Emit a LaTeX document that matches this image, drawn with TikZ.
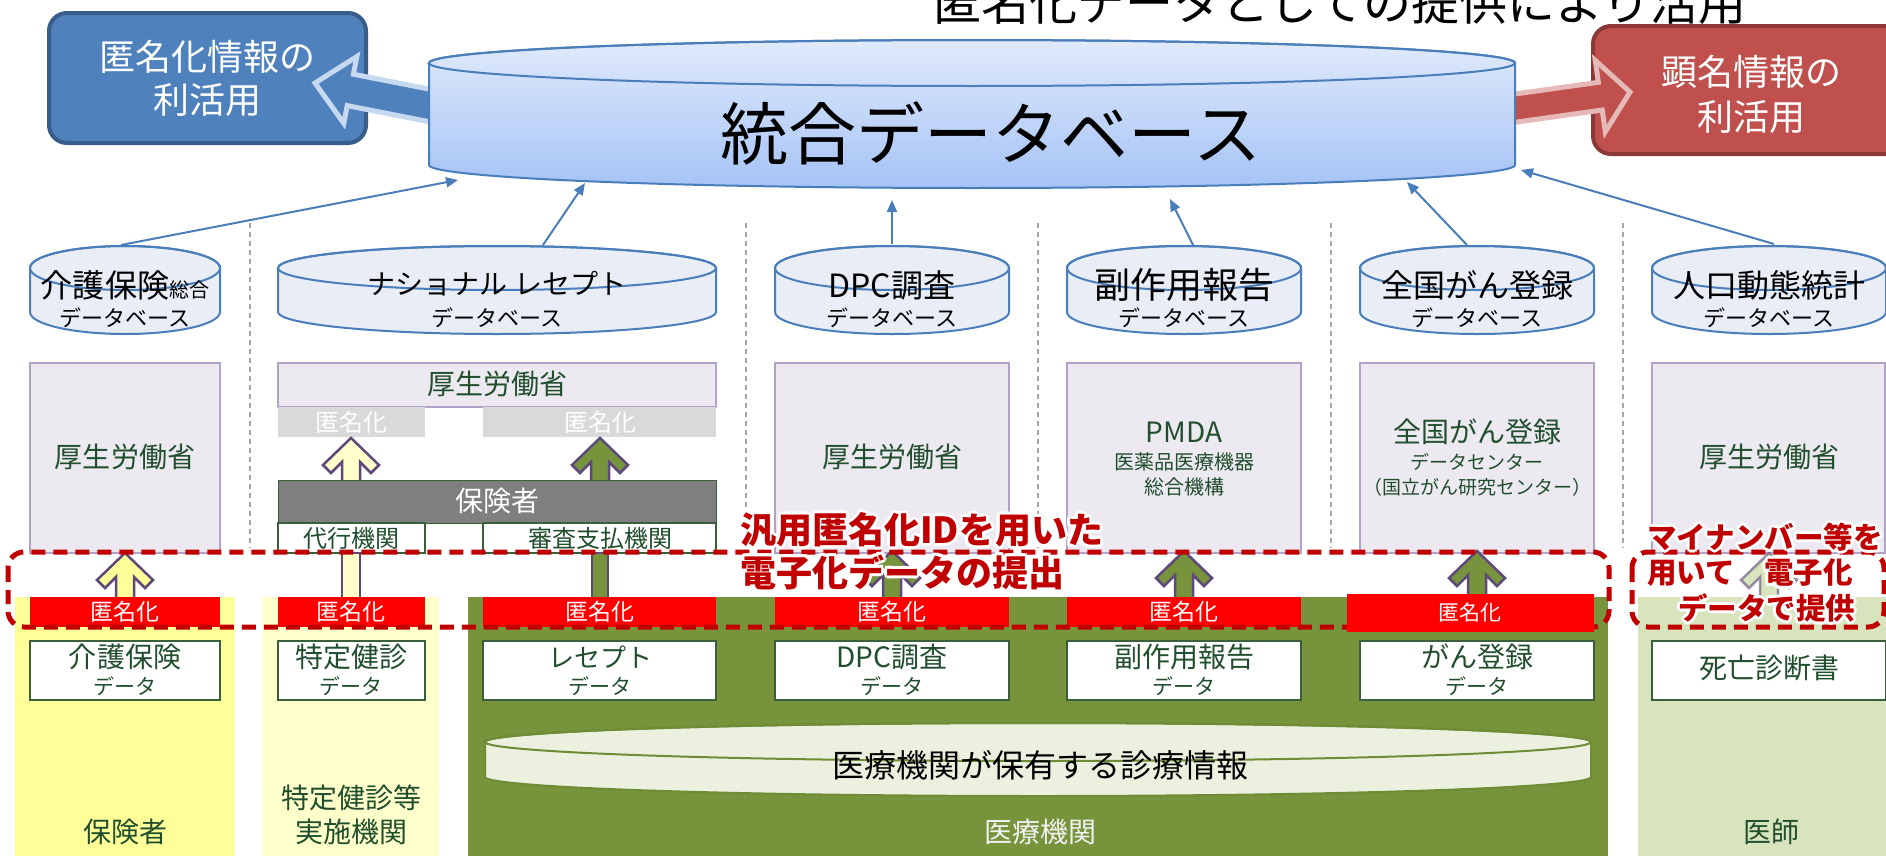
\documentclass[tikz,border=0pt]{standalone}
\usepackage{fontspec}
\setmainfont{Noto Sans CJK JP}
\usetikzlibrary{arrows.meta}
\definecolor{cylLine}{HTML}{4A7EBB}
\definecolor{cylTop}{HTML}{E0EAFB}
\definecolor{cylBot}{HTML}{A5C3F6}
\definecolor{smallCyl}{HTML}{E8EDF6}
\definecolor{blueBox}{HTML}{4F81BD}
\definecolor{blueBoxLine}{HTML}{385D8A}
\definecolor{blueArrLine}{HTML}{C6D9F1}
\definecolor{redBox}{HTML}{C0504D}
\definecolor{redBoxLine}{HTML}{8C3836}
\definecolor{redArrLine}{HTML}{E6B9B8}
\definecolor{lav}{HTML}{ECE9F1}
\definecolor{lavLine}{HTML}{B3A2C7}
\definecolor{dgreen}{HTML}{214E2D}
\definecolor{anonGray}{HTML}{D9D9D9}
\definecolor{hokenGray}{HTML}{7F7F7F}
\definecolor{yel}{HTML}{FFFF99}
\definecolor{yelLight}{HTML}{FFFFCC}
\definecolor{grn}{HTML}{77933C}
\definecolor{grnLight}{HTML}{D7E4BD}
\definecolor{brightRed}{HTML}{FF0000}
\definecolor{darkRed}{HTML}{C00000}
\definecolor{arrLine}{HTML}{5F497A}
\definecolor{sepGray}{HTML}{A6A6A6}
\definecolor{cylGrnFill}{HTML}{EBF1DE}
\definecolor{cylGrnLine}{HTML}{6E8B35}
\definecolor{boxGrnLine}{HTML}{3B5E3B}
\newcommand\fsz[1]{\fontsize{#1bp}{#1bp}\selectfont}
\newcommand\smallcyl[2]{%
  \path[fill=smallCyl,draw=cylLine,line width=2bp] (#1-#2,268) -- (#1-#2,312) arc[start angle=180,end angle=360,x radius=#2bp,y radius=22bp] -- (#1+#2,268) arc[start angle=0,end angle=180,x radius=#2bp,y radius=22bp] -- cycle;
  \draw[cylLine,line width=2bp] (#1,268) ellipse[x radius=#2bp,y radius=22bp];}
\newcommand\blkarrow[4]{%
  \path[blk,fill=#4] (#1,#2) -- (#1+28,#2+27) -- (#1+20,#2+35) -- (#1+9,#2+24) -- (#1+9,#3) -- (#1-9,#3) -- (#1-9,#2+24) -- (#1-20,#2+35) -- (#1-28,#2+27) -- cycle;}
\newcommand\glowline[5]{%
  \foreach \a in {0,45,...,315}{\node[anchor=west,inner sep=0pt,text=white,font={\fsz{#4}\bfseries},shift={(\a:3bp)}] at (#2,#3) {#5};}
  \node[anchor=west,inner sep=0pt,text=darkRed,font={\fsz{#4}\bfseries}] (#1) at (#2,#3) {#5};}
\begin{document}
\begin{tikzpicture}[x=1bp,y=-1bp,
  thinarrow/.style={draw=cylLine,line width=2bp,-{Triangle[length=12bp,width=10bp]}},
  sepline/.style={draw=sepGray,line width=2bp,dash pattern=on 5bp off 4bp},
  lbl/.style={inner sep=0pt,outer sep=0pt,text=dgreen,anchor=center},
  blk/.style={draw=arrLine,line width=2.5bp,line join=miter},
  lavbox/.style={fill=lav,draw=lavLine,line width=1.2bp},
  databox/.style={fill=white,draw=boxGrnLine,line width=1.2bp},
  dashbox/.style={draw=darkRed,line width=5bp,dash pattern=on 14bp off 8bp,rounded corners=16bp},
]
\useasboundingbox (0,0) rectangle (1886,856);
\fill[white] (0,0) rectangle (1886,856);

% title (cut at top)
\node[inner sep=0pt,font=\fsz{48}] (title) at (1340,2) {匿名化データとしての提供により活用};

% separators
\foreach \sx in {250,746,1038,1331,1623}{\draw[sepline] (\sx,223) -- (\sx,548);}

% thin arrows
\coordinate (kT) at (121,245); \coordinate (kE) at (458,180);
\coordinate (nT) at (543,245); \coordinate (nE) at (585,183);
\coordinate (dT) at (892,244); \coordinate (dE) at (892,200);
\coordinate (fT) at (1193,245); \coordinate (fE) at (1170,199);
\coordinate (gT) at (1467,245); \coordinate (gE) at (1407,182);
\coordinate (jT) at (1774,244); \coordinate (jE) at (1521,170);
\draw[thinarrow] (kT) -- (kE);
\draw[thinarrow] (nT) -- (nE);
\draw[thinarrow] (dT) -- (dE);
\draw[thinarrow] (fT) -- (fE);
\draw[thinarrow] (gT) -- (gE);
\draw[thinarrow] (jT) -- (jE);

% side boxes
\path[fill=blueBox,draw=blueBoxLine,line width=4bp,rounded corners=18bp] (49,13) rectangle (366,143);
\path[fill=redBox,draw=redBoxLine,line width=4bp,rounded corners=18bp] (1593,26) rectangle (1915,154);
\node[inner sep=0pt,text=white,font=\fsz{36}] (anonUse1) at (207,57) {匿名化情報の};
\node[inner sep=0pt,text=white,font=\fsz{36}] (anonUse2) at (207,100) {利活用};
\node[inner sep=0pt,text=white,font=\fsz{36}] (namedUse1) at (1751,72) {顕名情報の};
\node[inner sep=0pt,text=white,font=\fsz{36}] (namedUse2) at (1751,117) {利活用};

% wide arrows
\begin{scope}[shift={(315,83)},rotate=-11.1]
\path[fill=blueBox,draw=blueArrLine,line width=5bp] (0,0) -- (36,34) -- (36,16) -- (170,16) -- (170,-16) -- (36,-16) -- (36,-34) -- cycle;
\end{scope}
\begin{scope}[shift={(1630,92)},rotate=8]
\path[fill=redBox,draw=redArrLine,line width=5bp] (0,0) -- (-30,36) -- (-30,14) -- (-170,14) -- (-170,-14) -- (-30,-14) -- (-30,-36) -- cycle;
\end{scope}

% big cylinder
\shade[top color=cylTop,bottom color=cylBot] (429,63) -- (429,165) arc[start angle=180,end angle=360,x radius=543bp,y radius=23bp] -- (1515,63) arc[start angle=0,end angle=180,x radius=543bp,y radius=23bp] -- cycle;
\draw[cylLine,line width=2bp] (429,63) -- (429,165) arc[start angle=180,end angle=360,x radius=543bp,y radius=23bp] -- (1515,63) arc[start angle=0,end angle=180,x radius=543bp,y radius=23bp] -- cycle;
\draw[cylLine,line width=2bp] (972,63) ellipse[x radius=543bp,y radius=23bp];
\node[inner sep=0pt,font=\fsz{68}] (intDB) at (991,133) {統合データベース};

% small cylinders
\smallcyl{125}{95}
\smallcyl{497}{219}
\smallcyl{892}{117}
\smallcyl{1184}{117}
\smallcyl{1477}{117}
\smallcyl{1769}{117}
\node[inner sep=0pt,font=\fsz{32}] (kaigoDB) at (125,285) {介護保険{\fsz{20}総合}};
\node[inner sep=0pt,font=\fsz{28}] (natDB) at (497,284) {ナショナル レセプト};
\node[inner sep=0pt,font=\fsz{32}] (dpcDB) at (892,285) {DPC調査};
\node[inner sep=0pt,font=\fsz{36}] (sideDB) at (1184,285) {副作用報告};
\node[inner sep=0pt,font=\fsz{32}] (canDB) at (1477,285) {全国がん登録};
\node[inner sep=0pt,font=\fsz{32}] (popDB) at (1769,285) {人口動態統計};
\foreach \cx/\nm in {125/k,497/n,892/d,1184/f,1477/g,1769/j}{\node[inner sep=0pt,font=\fsz{22}] (db\nm) at (\cx,318) {データベース};}

% lavender boxes
\path[lavbox] (30,363) rectangle (220,553);
\path[lavbox] (278,363) rectangle (716,407);
\path[lavbox] (775,363) rectangle (1009,553);
\path[lavbox] (1067,363) rectangle (1301,553);
\path[lavbox] (1360,363) rectangle (1594,553);
\path[lavbox] (1652,363) rectangle (1885,553);
\node[lbl,font=\fsz{28}] (mhlw1) at (125,457) {厚生労働省};
\node[lbl,font=\fsz{28}] (mhlw2) at (497,384) {厚生労働省};
\node[lbl,font=\fsz{28}] (mhlw3) at (892,457) {厚生労働省};
\node[lbl,font=\fsz{28}] (pmda) at (1184,432) {PMDA};
\node[lbl,font=\fsz{20}] (pmda2) at (1184,462) {医薬品医療機器};
\node[lbl,font=\fsz{20}] (pmda3) at (1184,487) {総合機構};
\node[lbl,font=\fsz{28}] (canc1) at (1477,432) {全国がん登録};
\node[lbl,font=\fsz{19}] (canc2) at (1477,462) {データセンター};
\node[lbl,font=\fsz{19}] (canc3) at (1477,487) {（国立がん研究センター）};
\node[lbl,font=\fsz{28}] (mhlw4) at (1769,457) {厚生労働省};

% national receipt internals
\path[fill=anonGray] (278,407) rectangle (425,437);
\path[fill=anonGray] (483,407) rectangle (716,437);
\node[inner sep=0pt,text=white,font=\fsz{24}] (ga1) at (351,422) {匿名化};
\node[inner sep=0pt,text=white,font=\fsz{24}] (ga2) at (600,422) {匿名化};
\blkarrow{351}{438}{482}{yelLight}
\blkarrow{600}{438}{482}{grn}
\path[fill=hokenGray,draw=boxGrnLine,line width=1bp] (278,480) rectangle (716,523);
\node[inner sep=0pt,text=white,font=\fsz{28}] (insurer) at (497,501) {保険者};
\path[databox] (278,523) rectangle (425,553);
\path[databox] (483,523) rectangle (716,553);
\node[lbl,font=\fsz{24}] (agent) at (351,538) {代行機関};
\node[lbl,font=\fsz{24}] (review) at (600,538) {審査支払機関};

% bottom backgrounds
\path[fill=yel] (15,597) rectangle (235,856);
\path[fill=yelLight] (263,597) rectangle (439,856);
\path[fill=grn] (468,597) rectangle (1608,856);
\path[fill=grnLight] (1638,597) rectangle (1886,856);

% lower block arrows
\blkarrow{125}{553}{600}{yel}
\path[blk,fill=yelLight] (342,553) rectangle (360,600);
\path[blk,fill=grn] (592,553) rectangle (608,600);
\blkarrow{892}{551}{600}{grn}
\blkarrow{1184}{551}{600}{grn}
\blkarrow{1477}{551}{600}{grn}
\path[blk,fill=grnLight,draw opacity=0.6] (1769,553) -- (1769+28,580) -- (1769+20,588) -- (1769+9,577) -- (1769+9,600) -- (1769-9,600) -- (1769-9,577) -- (1769-20,588) -- (1769-28,580) -- cycle;

% red anonymisation boxes
\foreach \xa/\xb in {30/220,278/425,483/716,775/1009,1067/1301}{\path[fill=brightRed] (\xa,597) rectangle (\xb,627);}

% data boxes
\foreach \xa/\xb in {30/220,278/425,483/716,775/1009,1067/1301,1360/1594,1652/1886}{\path[databox] (\xa,641) rectangle (\xb,700);}
\node[lbl,font=\fsz{28}] (dk) at (125,657) {介護保険};
\node[lbl,font=\fsz{28}] (dt) at (351,657) {特定健診};
\node[lbl,font=\fsz{26}] (dr) at (600,657) {レセプト};
\node[lbl,font=\fsz{28}] (dd) at (892,657) {DPC調査};
\node[lbl,font=\fsz{28}] (df) at (1184,657) {副作用報告};
\node[lbl,font=\fsz{28}] (dg) at (1477,657) {がん登録};
\foreach \cx/\nm in {125/k,351/t,600/r,892/d,1184/f,1477/g}{\node[lbl,font=\fsz{21}] (data\nm) at (\cx,686) {データ};}
\node[lbl,font=\fsz{28}] (death) at (1769,668) {死亡診断書};

% bottom cylinder
\path[fill=cylGrnFill,draw=cylGrnLine,line width=2bp] (485,742) -- (485,777) arc[start angle=180,end angle=360,x radius=553bp,y radius=19bp] -- (1591,742) arc[start angle=0,end angle=180,x radius=553bp,y radius=19bp] -- cycle;
\draw[cylGrnLine,line width=2bp] (1038,742) ellipse[x radius=553bp,y radius=19bp];
\node[inner sep=0pt,font=\fsz{32}] (clinical) at (1040,765) {医療機関が保有する診療情報};

% bottom labels
\node[lbl,font=\fsz{28}] (lIns) at (125,832) {保険者};
\node[lbl,font=\fsz{28}] (lChk1) at (351,798) {特定健診等};
\node[lbl,font=\fsz{28}] (lChk2) at (351,832) {実施機関};
\node[lbl,font=\fsz{28},text=white!95!black] (lMed) at (1040,832) {医療機関};
\node[lbl,font=\fsz{28}] (lDoc) at (1771,832) {医師};

% dashed frames
\path[dashbox] (8,552) rectangle (1609,627);
\path[dashbox] (1632,552) rectangle (1884,627);

% red anon texts
\path[fill=brightRed] (1347,594) rectangle (1594,632);
\foreach \cx/\nm in {125/a,351/b,600/c,892/d,1184/e}{\node[inner sep=0pt,text=white,font=\fsz{23}] (anon\nm) at (\cx,612) {匿名化};}
\node[inner sep=0pt,text=white,font=\fsz{21}] (anonf) at (1470,613) {匿名化};

% red callout texts
\glowline{call1}{740}{530}{36}{汎用匿名化IDを用いた}
\glowline{call2}{740}{572}{36}{電子化データの提出}
\glowline{mn1}{1647}{537}{29.5}{マイナンバー等を}
\glowline{mn2}{1647}{573}{29.5}{用いて　電子化}
\glowline{mn3}{1678}{608}{29.5}{データで提供}
\end{tikzpicture}
\end{document}
